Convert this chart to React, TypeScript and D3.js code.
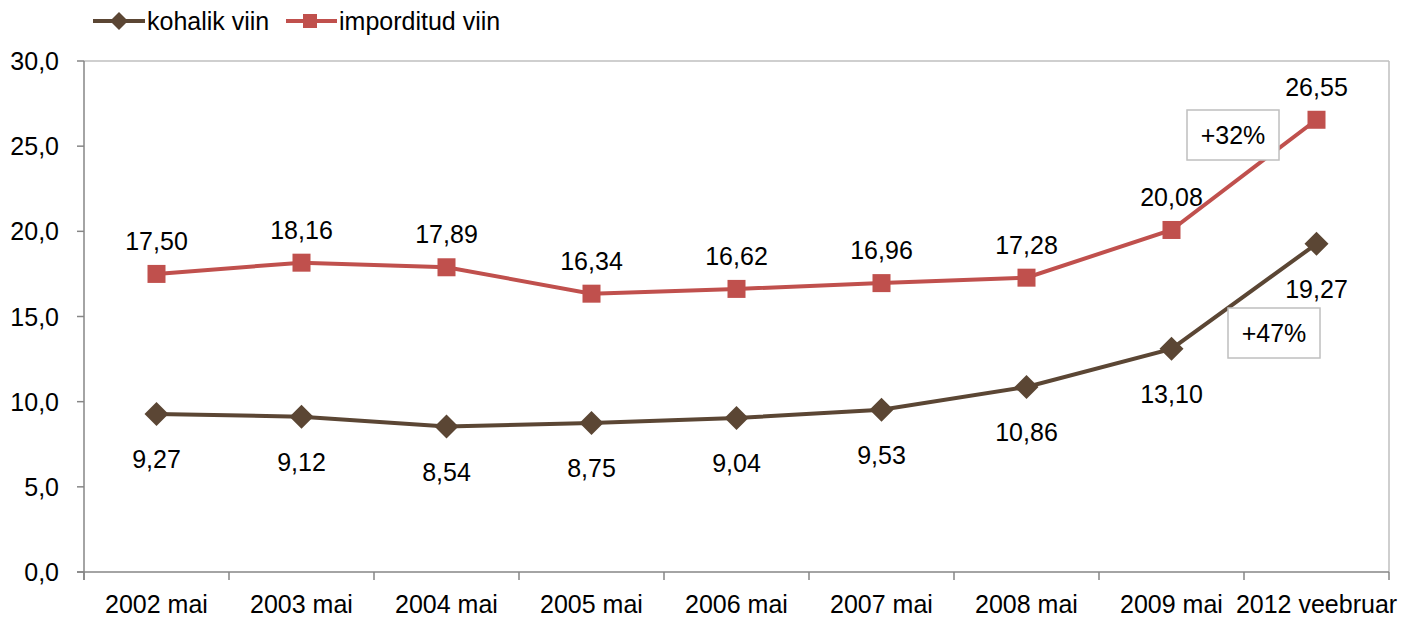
import React from "react";
import * as d3 from "d3";

const categories = ["2002 mai", "2003 mai", "2004 mai", "2005 mai", "2006 mai", "2007 mai", "2008 mai", "2009 mai", "2012 veebruar"];
const kohalik = [9.27, 9.12, 8.54, 8.75, 9.04, 9.53, 10.86, 13.1, 19.27];
const imporditud = [17.5, 18.16, 17.89, 16.34, 16.62, 16.96, 17.28, 20.08, 26.55];
const yTicks = [0, 5, 10, 15, 20, 25, 30];
const seriesNames = ["kohalik viin", "imporditud viin"];
const annotations = [
  { text: "+32%", cx: 1233, cy: 135 },
  { text: "+47%", cx: 1274, cy: 333 },
];

const BROWN = "#5b4634";
const RED = "#c0504d";
const FONT = "'Liberation Sans', Arial, sans-serif";
const FS = 25;

export default function App() {
  const W = 1422, H = 618;
  const left = 84, right = 1389, top = 61, bottom = 572;
  const x = d3.scaleBand<string>().domain(categories).range([left, right]);
  const y = d3.scaleLinear().domain([0, 30]).range([bottom, top]);
  const cx = (i: number) => (x(categories[i]) as number) + x.bandwidth() / 2;
  const line = d3.line<number>().x((_, i) => cx(i)).y((v) => y(v));
  const fmt = (v: number, d: number) => v.toFixed(d).replace(".", ",");
  const diamond = (px: number, py: number, r: number) =>
    `M${px},${py - r}L${px + r},${py}L${px},${py + r}L${px - r},${py}Z`;
  const tickXs = categories.map((c) => x(c) as number).concat([right]);

  return (
    <svg width={W} height={H} style={{ position: "absolute", left: 0, top: 0 }} fontFamily={FONT}>
      <rect x={0} y={0} width={W} height={H} fill="#fff" />
      {/* plot border */}
      <line x1={left} x2={right} y1={top} y2={top} stroke="#bfbfbf" strokeWidth={1.5} />
      <line x1={right} x2={right} y1={top} y2={bottom} stroke="#bfbfbf" strokeWidth={1.5} />
      {/* y axis */}
      <line x1={left} x2={left} y1={top} y2={bottom + 8} stroke="#868686" strokeWidth={1.5} />
      {yTicks.map((t) => (
        <g key={t}>
          <line x1={left - 7} x2={left} y1={y(t)} y2={y(t)} stroke="#868686" strokeWidth={1.5} />
          <text x={59} y={y(t)} fontSize={FS} textAnchor="end" dominantBaseline="central" fill="#000">
            {fmt(t, 1)}
          </text>
        </g>
      ))}
      {/* x axis */}
      <line x1={left - 7} x2={right} y1={bottom} y2={bottom} stroke="#868686" strokeWidth={1.5} />
      {tickXs.map((tx, i) => (
        <line key={i} x1={tx} x2={tx} y1={bottom} y2={bottom + 8} stroke="#868686" strokeWidth={1.5} />
      ))}
      {categories.map((c, i) => (
        <text key={c} x={cx(i)} y={613} fontSize={FS} textAnchor="middle" fill="#000">
          {c}
        </text>
      ))}
      {/* lines */}
      <path d={line(imporditud) || ""} fill="none" stroke={RED} strokeWidth={4} />
      <path d={line(kohalik) || ""} fill="none" stroke={BROWN} strokeWidth={4} />
      {imporditud.map((v, i) => (
        <rect key={i} x={cx(i) - 9} y={y(v) - 9} width={18} height={18} fill={RED} />
      ))}
      {kohalik.map((v, i) => (
        <path key={i} d={diamond(cx(i), y(v), 12)} fill={BROWN} />
      ))}
      {imporditud.map((v, i) => (
        <text key={i} x={cx(i)} y={y(v) - 33} fontSize={FS} textAnchor="middle" dominantBaseline="central" fill="#000">
          {fmt(v, 2)}
        </text>
      ))}
      {kohalik.map((v, i) => (
        <text key={i} x={cx(i)} y={y(v) + 45} fontSize={FS} textAnchor="middle" dominantBaseline="central" fill="#000">
          {fmt(v, 2)}
        </text>
      ))}
      {/* annotations */}
      {annotations.map((a) => (
        <g key={a.text}>
          <rect x={a.cx - 46} y={a.cy - 25} width={92} height={50} fill="#fff" stroke="#bfbfbf" strokeWidth={1.5} />
          <text x={a.cx} y={a.cy} fontSize={FS} textAnchor="middle" dominantBaseline="central" fill="#000">
            {a.text}
          </text>
        </g>
      ))}
      {/* legend */}
      <g>
        <line x1={93} x2={145} y1={21} y2={21} stroke={BROWN} strokeWidth={4} />
        <path d={diamond(119, 21, 9)} fill={BROWN} />
        <text x={147} y={21} fontSize={FS} dominantBaseline="central" fill="#000">{seriesNames[0]}</text>
        <line x1={286} x2={337} y1={21} y2={21} stroke={RED} strokeWidth={4} />
        <rect x={303} y={14} width={14} height={14} fill={RED} />
        <text x={339} y={21} fontSize={FS} dominantBaseline="central" fill="#000">{seriesNames[1]}</text>
      </g>
    </svg>
  );
}
